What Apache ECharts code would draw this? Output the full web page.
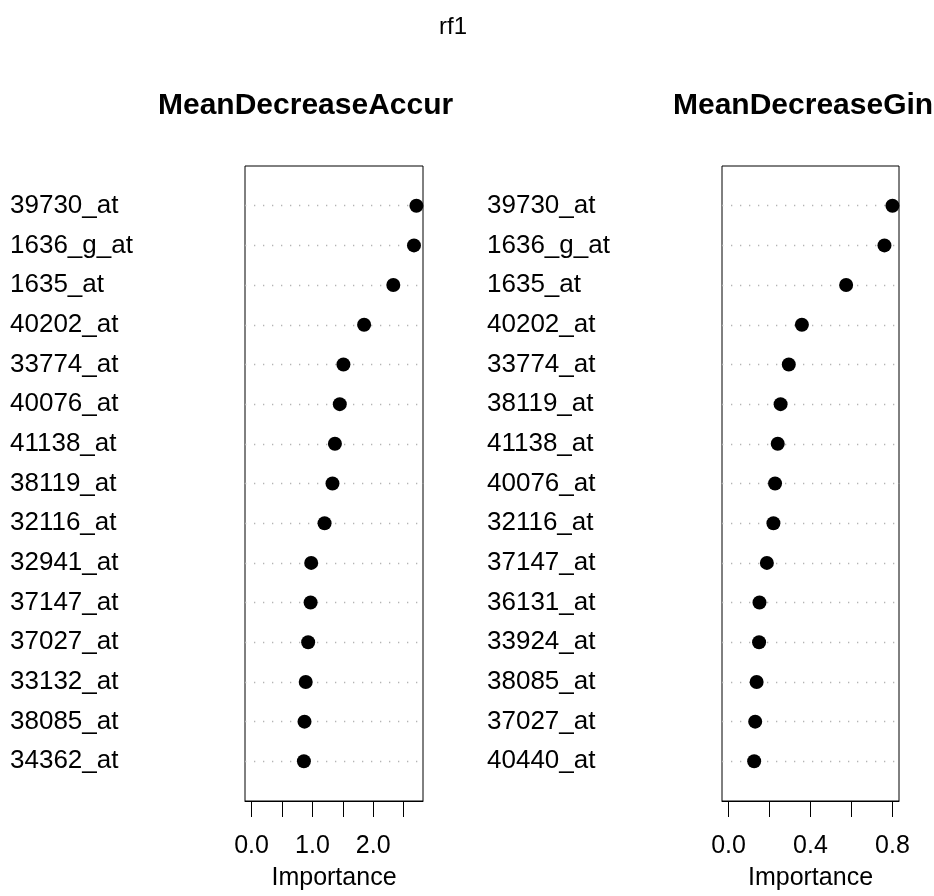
<!DOCTYPE html>
<html>
<head>
<meta charset="utf-8">
<script src="https://cdn.jsdelivr.net/npm/echarts@6/dist/echarts.min.js"></script>
<style>
  html, body { margin: 0; padding: 0; background: #fff; }
  #chart { width: 934px; height: 896px; }
</style>
</head>
<body>
<div id="chart"></div>
<script>
// variable names, top to bottom, as drawn in each panel
const accNames = ['39730_at', '1636_g_at', '1635_at', '40202_at', '33774_at', '40076_at', '41138_at',
  '38119_at', '32116_at', '32941_at', '37147_at', '37027_at', '33132_at', '38085_at', '34362_at'];
const accValues = [2.71, 2.67, 2.33, 1.85, 1.51, 1.45, 1.37, 1.33, 1.20, 0.98, 0.97, 0.93, 0.89, 0.87, 0.86];

const giniNames = ['39730_at', '1636_g_at', '1635_at', '40202_at', '33774_at', '38119_at', '41138_at',
  '40076_at', '32116_at', '37147_at', '36131_at', '33924_at', '38085_at', '37027_at', '40440_at'];
const giniValues = [0.800, 0.761, 0.574, 0.358, 0.294, 0.254, 0.240, 0.227, 0.219, 0.187, 0.151, 0.149, 0.137, 0.130, 0.125];

const accTicks = [0, 0.5, 1, 1.5, 2, 2.5];
const accLabels = [0, 1, 2];
const giniTicks = [0, 0.2, 0.4, 0.6, 0.8];
const giniLabels = [0, 0.4, 0.8];

const FONT = '"Liberation Sans", Arial, sans-serif';
const n = accNames.length;

// dotchart-like range: 4% padding on both sides
const padRange = (lo, hi) => {
  const d = (hi - lo) * 0.04;
  return [lo - d, hi + d];
};
const accRange = padRange(0, Math.max(...accValues));
const giniRange = padRange(0, Math.max(...giniValues));

const toPoints = vals => vals.map((v, i) => [v, n - i]);

const xAxisFor = (gridIndex, range, ticks, labels) => ({
  type: 'value',
  gridIndex,
  min: range[0],
  max: range[1],
  name: 'Importance',
  nameLocation: 'middle',
  nameGap: 65,
  nameTextStyle: { fontFamily: FONT, fontSize: 25, color: '#000' },
  axisLine: { show: true, lineStyle: { color: '#000', width: 1 } },
  axisTick: { show: true, length: 16, customValues: ticks, lineStyle: { color: '#000', width: 1 } },
  axisLabel: {
    customValues: labels,
    formatter: v => v.toFixed(1),
    fontFamily: FONT, fontSize: 25, color: '#000', margin: 33
  },
  splitLine: { show: false }
});

const yAxisFor = (gridIndex, names) => ({
  type: 'value',
  gridIndex,
  min: 0,
  max: n + 1,
  interval: 1,
  axisLine: { show: false },
  axisTick: { show: false },
  axisLabel: {
    align: 'left',
    margin: 235,
    padding: [6, 0, 0, 0],
    fontFamily: FONT, fontSize: 26, color: '#000',
    formatter: v => (v >= 1 && v <= n) ? names[n - v] : ''
  },
  splitLine: {
    show: true,
    showMinLine: false,
    showMaxLine: false,
    lineStyle: { color: '#b4b4b4', width: 1.3, type: [1.3, 7.7] }
  }
});

const chart = echarts.init(document.getElementById('chart'), null, { renderer: 'canvas' });

const option = {
  animation: false,
  backgroundColor: '#fff',
  title: [
    {
      text: 'rf1',
      left: 448, top: 10,
      textAlign: 'center',
      textStyle: { fontFamily: FONT, fontSize: 24, fontWeight: 'normal', color: '#000' }
    },
    {
      text: 'MeanDecreaseAccuracy',
      left: 153, top: 86,
      textStyle: {
        fontFamily: FONT, fontSize: 30, fontWeight: 'bold', color: '#000',
        width: 300, overflow: 'truncate', ellipsis: ''
      }
    },
    {
      text: 'MeanDecreaseGini',
      left: 668, top: 86,
      textStyle: { fontFamily: FONT, fontSize: 30, fontWeight: 'bold', color: '#000' }
    }
  ],
  grid: [
    { left: 245, right: 511, top: 166, bottom: 95, show: true, borderColor: '#000', borderWidth: 1, backgroundColor: 'transparent' },
    { left: 722, right: 35, top: 166, bottom: 95, show: true, borderColor: '#000', borderWidth: 1, backgroundColor: 'transparent' }
  ],
  xAxis: [
    xAxisFor(0, accRange, accTicks, accLabels),
    xAxisFor(1, giniRange, giniTicks, giniLabels)
  ],
  yAxis: [
    yAxisFor(0, accNames),
    yAxisFor(1, giniNames)
  ],
  series: [
    {
      name: 'MeanDecreaseAccuracy',
      type: 'scatter',
      xAxisIndex: 0, yAxisIndex: 0,
      symbol: 'circle', symbolSize: 14,
      itemStyle: { color: '#000', opacity: 1 },
      clip: false,
      data: toPoints(accValues)
    },
    {
      name: 'MeanDecreaseGini',
      type: 'scatter',
      xAxisIndex: 1, yAxisIndex: 1,
      symbol: 'circle', symbolSize: 14,
      itemStyle: { color: '#000', opacity: 1 },
      clip: false,
      data: toPoints(giniValues)
    }
  ]
};

chart.setOption(option);
</script>
</body>
</html>
